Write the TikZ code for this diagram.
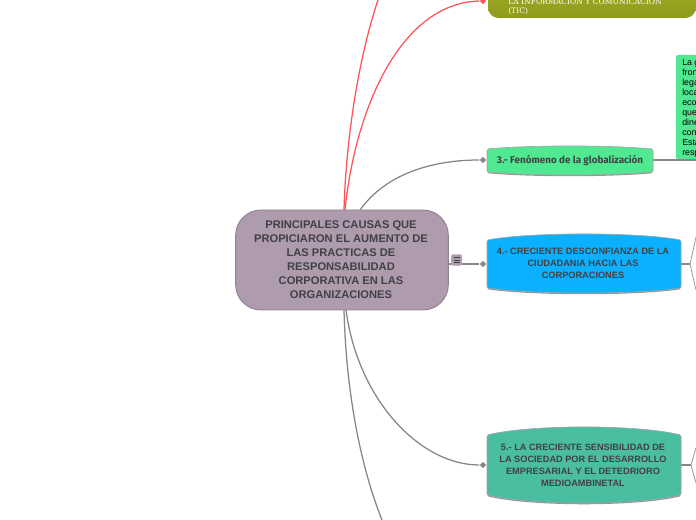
\documentclass[tikz,border=0pt]{standalone}
\usepackage{fontspec}
\setmainfont{Liberation Sans}
\newfontfamily\humfont{Fira Sans}
\newfontfamily\slabfont{DejaVu Serif}
\usetikzlibrary{shapes.geometric}
\definecolor{rootfill}{HTML}{AE9BAD}
\definecolor{rootline}{HTML}{8E8490}
\definecolor{inkc}{HTML}{414145}
\definecolor{grayl}{HTML}{8A8486}
\definecolor{redl}{HTML}{FF5558}
\definecolor{greenf}{HTML}{50E891}
\definecolor{bluef}{HTML}{0BB0FF}
\definecolor{tealf}{HTML}{4ABEA0}
\definecolor{olivet}{HTML}{A9B42A}
\definecolor{oliveb}{HTML}{8E9A1B}
\tikzset{
 px/.style={x=0.75pt,y=-0.75pt},
 conn/.style={draw=grayl,line width=0.95pt},
 redc/.style={draw=redl,line width=0.95pt},
 branch/.style={draw=grayl!85!white,line width=0.6pt},
 topic/.style={font=\bfseries\fontsize{6.9}{9}\selectfont,text=inkc,align=center,inner sep=0pt},
 dotg/.style={fill=grayl,draw=none,diamond,minimum size=5pt,inner sep=0pt},
 dotr/.style={fill=redl,draw=none,diamond,minimum size=5pt,inner sep=0pt},
}
\newcommand{\barrel}[7]{% x1, top corner y, x2, bottom corner y, top bulge, bottom bulge, colour
 \fill[black!42,rounded corners=1.2pt,yshift=-0.9pt] (#1,#2) .. controls (#1+45,#2-#5*1.33) and (#3-45,#2-#5*1.33) .. (#3,#2)
  -- (#3,#4) .. controls (#3-45,#4+#6*1.33) and (#1+45,#4+#6*1.33) .. (#1,#4) -- cycle;
 \draw[black!35,line width=0.5pt,fill=#7,rounded corners=1.2pt] (#1,#2) .. controls (#1+45,#2-#5*1.33) and (#3-45,#2-#5*1.33) .. (#3,#2)
  -- (#3,#4) .. controls (#3-45,#4+#6*1.33) and (#1+45,#4+#6*1.33) .. (#1,#4) -- cycle;
}
\begin{document}
\begin{tikzpicture}[px]
\useasboundingbox (0,0) rectangle (696,520);
\clip (0,0) rectangle (696,520);
% connectors first
\coordinate (t1) at (378,0);
\node[dotr] (d2) at (483,1) {};
\node[dotg] (d3) at (483,160) {};
\node[dotg] (d4) at (483,264) {};
\node[dotg] (d5) at (483,465) {};
\coordinate (t6) at (382,520);
\draw[redc] (344,210) .. controls (346,140) and (358,60) .. (t1);
\draw[redc] (345,210) .. controls (355,110) and (400,3) .. (d2.west);
\draw[conn] (360,210) .. controls (385,175) and (430,160) .. (d3.west);
\draw[conn] (449,264) -- (d4.west);
\draw[conn] (346,310) .. controls (358,400) and (420,465) .. (d5.west);
\draw[conn] (344,310) .. controls (346,390) and (360,465) .. (t6);
% root
\node[draw=rootline,fill=rootfill,rounded corners=19pt,minimum width=159.5pt,minimum height=75pt,line width=0.7pt,inner sep=0pt] (root) at (342,260) {};
\node[font=\bfseries\fontsize{8.35}{10.5}\selectfont,text=inkc,align=center] (roottxt) at (341,260) {PRINCIPALES CAUSAS QUE\\PROPICIARON EL AUMENTO DE\\LAS PRACTICAS DE\\RESPONSABILIDAD\\CORPORATIVA EN LAS\\ORGANIZACIONES};
% marker
\node[fill=rootfill,draw=rootfill!80!white,rounded corners=1pt,minimum width=8pt,minimum height=8pt,inner sep=0pt] (mk) at (456.5,260) {};
\draw[inkc,line width=0.35pt] (453.5,257.5) -- (459.5,257.5) (453.5,260) -- (459.5,260) (453.5,262.5) -- (459.5,262.5);
% olive
\shade[top color=olivet,bottom color=oliveb,rounded corners=8pt] (488,-30) rectangle (696,18);
\node[font=\slabfont\fontsize{5.7}{6.8}\selectfont,text=white,align=left,anchor=north west,inner sep=0pt] (t2) at (508,-3) {LA INFORMACIÓN  Y COMUNICACIÓN\\(TIC)};
% green leaf
\draw[conn] (653,160) -- (696,160);
\fill[greenf,rounded corners=1.5pt] (676,55) rectangle (710,159);
\node[font=\fontsize{6.6}{7.5}\selectfont,text=black,align=left,anchor=north west,inner sep=0pt] (leaf) at (682,59) {La g\\fron\\lega\\loca\\eco\\que\\dine\\con\\Esta\\resp};
% topic 3
\barrel{487}{149}{653}{172}{3}{3}{greenf}
\node[topic,font=\humfont\bfseries\fontsize{7.4}{9}\selectfont] (n3) at (570,160.5) {3.- Fenómeno de la globalización};
% topic 4
\draw[conn] (681,264) -- (690,264);
\draw[branch] (690,264) -- (696,237) (690,264) -- (696,290);
\barrel{487}{240}{681}{288}{6}{5}{bluef}
\node[topic] (n4) at (583,263.5) {4.- CRECIENTE DESCONFIANZA DE LA\\CIUDADANIA HACIA LAS\\CORPORACIONES};
% topic 5
\draw[conn] (681,465) -- (691,465);
\draw[branch] (691,465) -- (696,448) (691,465) -- (696,483);
\barrel{487}{435}{681}{495}{8}{8}{tealf}
\node[topic] (n5) at (583,465.5) {5.- LA CRECIENTE SENSIBILIDAD DE\\LA SOCIEDAD POR EL DESARROLLO\\EMPRESARIAL Y EL DETEDRIORO\\MEDIOAMBINETAL};
\end{tikzpicture}
\end{document}
